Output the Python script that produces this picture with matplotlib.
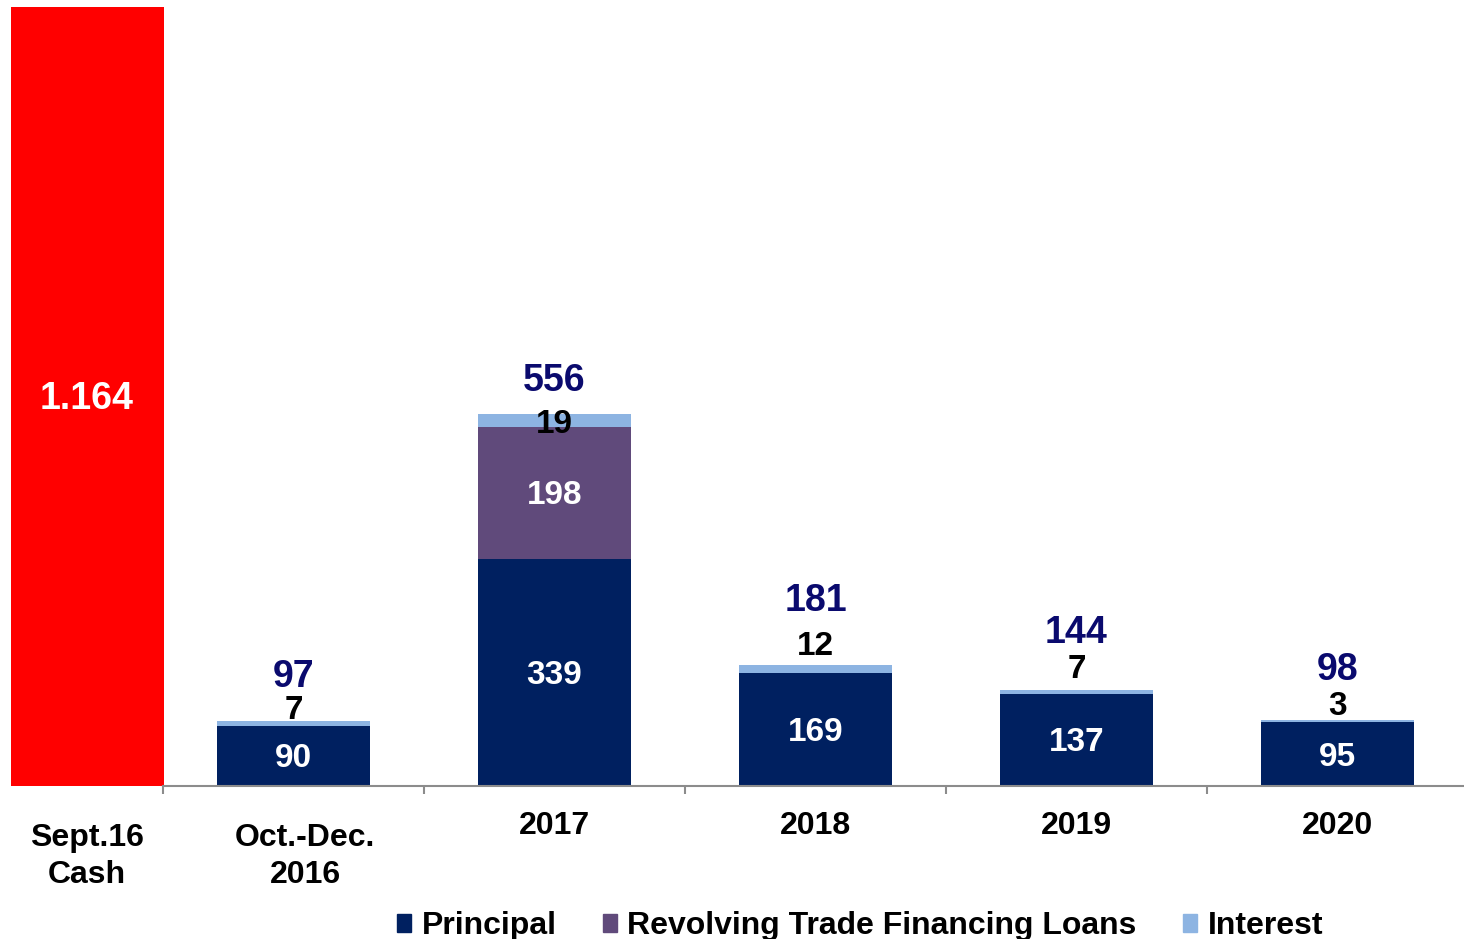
import matplotlib.pyplot as plt
from matplotlib.patches import Patch
import numpy as np

plt.rcParams['font.family'] = ['Liberation Sans', 'DejaVu Sans']
plt.rcParams['font.weight'] = 'bold'

cash_label = 'Sept.16\nCash'
cash_value = 1164
cash_text = '1.164'

periods = ['Oct.-Dec.\n2016', '2017', '2018', '2019', '2020']
principal = [90, 339, 169, 137, 95]
revolving = [0, 198, 0, 0, 0]
interest = [7, 19, 12, 7, 3]
totals = [97, 556, 181, 144, 98]

NAVY = '#002060'
PURPLE = '#604A7B'
LIGHT = '#8DB4E2'
RED = '#FF0000'
LABEL_BLUE = '#0A0A6E'
GRID_GREY = '#8C8C8C'

# label offsets above each stack top, in points (hand tuned)
total_off = [32, 24, 46, 41, 36]
interest_off = [7.5, -7.5, 13, 14.5, 10]

fig = plt.figure(figsize=(14.64, 9.39), dpi=100)
ax = fig.add_axes([0, 153 / 939, 1, 786 / 939])

x = np.arange(len(periods))
w = 0.586
principal = np.array(principal)
revolving = np.array(revolving)
interest = np.array(interest)

ax.bar(x, principal, w, color=NAVY)
ax.bar(x, revolving, w, bottom=principal, color=PURPLE)
ax.bar(x, interest, w, bottom=principal + revolving, color=LIGHT)

cash_x = -0.791
ax.bar(cash_x, cash_value, w, color=RED)
ax.annotate(cash_text, (cash_x, cash_value / 2), xytext=(0, -2),
            textcoords='offset points', color='white', fontsize=27,
            ha='center', va='center')


def inner_label(xi, y, txt):
    ax.annotate(txt, (xi, y), xytext=(0, -2), textcoords='offset points',
                color='white', fontsize=24, ha='center', va='center')


for i in range(len(periods)):
    inner_label(x[i], principal[i] / 2, str(principal[i]))
    if revolving[i]:
        inner_label(x[i], principal[i] + revolving[i] / 2, str(revolving[i]))
    top = principal[i] + revolving[i] + interest[i]
    ax.annotate(str(interest[i]), (x[i], top), xytext=(0, interest_off[i]),
                textcoords='offset points', ha='center', va='center',
                fontsize=24, color='black')
    ax.annotate(str(totals[i]), (x[i], top), xytext=(0, total_off[i]),
                textcoords='offset points', ha='center', va='center',
                fontsize=27, color=LABEL_BLUE)

# category labels under the axis
ax.annotate(cash_label, (cash_x, 0), xycoords=('data', 'axes fraction'),
            xytext=(0, -50.5), textcoords='offset points', ha='center',
            va='center', fontsize=23, linespacing=1.3)
for i, lab in enumerate(periods):
    if '\n' in lab:
        off = (8.5, -50.5)
    else:
        off = (0, -28.5)
    ax.annotate(lab, (x[i], 0), xycoords=('data', 'axes fraction'),
                xytext=off, textcoords='offset points', ha='center',
                va='center', fontsize=23, linespacing=1.3)

ax.set_xlim(-163 / 261 - 0.5, (1464 - 163) / 261 - 0.5)
ax.set_ylim(0, 786 / 0.669)

for s in ['top', 'right', 'left']:
    ax.spines[s].set_visible(False)
ax.spines['bottom'].set_color(GRID_GREY)
ax.spines['bottom'].set_linewidth(1.5)
ax.spines['bottom'].set_bounds(-0.5, 4.5)
ax.set_yticks([])
ax.set_xticks(np.arange(-0.5, 4.0, 1.0))
ax.set_xticklabels([])
ax.tick_params(axis='x', direction='out', length=6, width=1.5, color=GRID_GREY)

handles = [Patch(color=NAVY, label='Principal'),
           Patch(color=PURPLE, label='Revolving Trade Financing Loans'),
           Patch(color=LIGHT, label='Interest')]
fig.legend(handles=handles, loc='center', bbox_to_anchor=(860 / 1464, 1 - 926 / 939),
           ncol=3, frameon=False, prop={'weight': 'bold', 'size': 23},
           handlelength=0.45, handleheight=0.5, handletextpad=0.32,
           columnspacing=1.45, borderaxespad=0)

fig.savefig('out.png', dpi=100)
